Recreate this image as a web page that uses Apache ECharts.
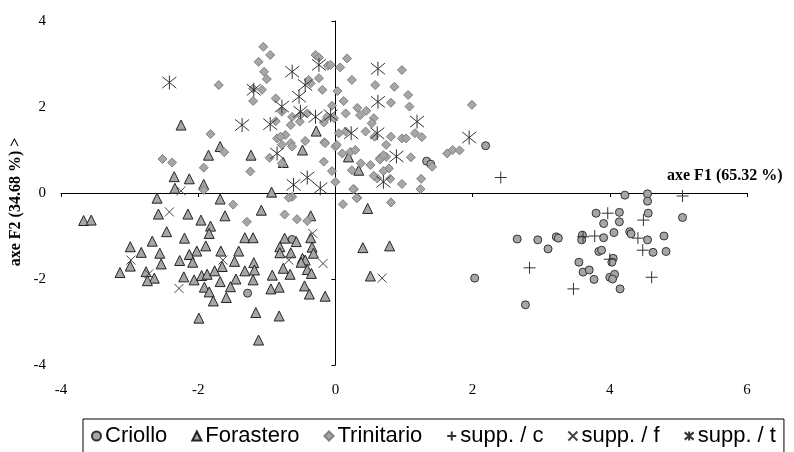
<!DOCTYPE html>
<html><head><meta charset="utf-8">
<script src="https://cdn.jsdelivr.net/npm/echarts@6/dist/echarts.min.js"></script>
<style>html,body{margin:0;padding:0;background:#fff}#c{width:794px;height:452px}</style>
</head><body><div id="c"></div>
<script>
var xTicks = [-4, -2, 0, 2, 4, 6];
var yTicks = [-4, -2, 0, 2, 4];
var xTitle = 'axe F1 (65.32 %)';
var yTitle = 'axe F2 (34.68 %) >';
var seriesNames = ['Criollo', 'Forastero', 'Trinitario', 'supp. / c', 'supp. / f', 'supp. / t'];

var criollo = [[4.22,-0.05],[4.55,-0.02],[4.55,-0.19],[4.56,-0.47],[5.06,-0.57],[3.80,-0.47],[4.14,-0.45],[3.91,-0.71],[4.14,-0.67],[4.06,-0.92],[4.29,-0.90],[4.31,-0.95],[4.79,-1.00],[4.55,-1.09],[3.91,-1.04],[3.60,-0.98],[3.59,-1.09],[3.22,-1.02],[3.25,-1.05],[2.95,-1.09],[2.65,-1.07],[3.10,-1.30],[3.84,-1.36],[3.88,-1.33],[4.63,-1.38],[4.82,-1.36],[3.55,-1.61],[4.05,-1.52],[4.03,-1.61],[3.61,-1.84],[3.70,-1.79],[3.77,-2.01],[4.00,-1.96],[4.07,-1.89],[4.04,-2.00],[4.15,-2.23],[2.03,-1.98],[2.77,-2.60],[2.19,1.10],[1.33,0.74],[1.39,0.67],[-1.28,-2.33],[-0.63,-1.08]];

var forastero = [[-3.67,-0.64],[-3.56,-0.63],[-2.60,-0.12],[-2.58,-0.49],[-2.15,-0.49],[-1.96,-0.63],[-1.68,-0.14],[-1.61,-0.53],[-1.82,-0.77],[-1.84,-0.94],[-2.46,-0.90],[-2.67,-1.12],[-2.20,-1.05],[-2.99,-1.25],[-2.83,-1.38],[-2.56,-1.40],[-2.02,-1.35],[-1.89,-1.23],[-1.67,-1.35],[-1.41,-1.35],[-2.13,-1.43],[-2.27,-1.57],[-2.08,-1.61],[-2.54,-1.65],[-2.99,-1.70],[-1.47,-1.59],[-1.65,-1.71],[-3.14,-1.85],[-2.76,-1.83],[-2.64,-1.98],[-2.74,-2.04],[-2.21,-1.95],[-2.06,-2.02],[-1.95,-1.92],[-1.87,-1.89],[-1.76,-1.81],[-1.68,-2.06],[-1.45,-2.00],[-1.91,-2.19],[-1.84,-2.30],[-1.53,-2.18],[-1.78,-2.51],[-1.59,-2.43],[-1.99,-2.91],
[-0.93,0.02],[-1.08,-0.40],[-0.36,-0.53],[-1.32,-1.04],[-1.20,-1.04],[-0.74,-1.05],[-0.57,-1.13],[-0.36,-1.04],[-0.81,-1.25],[-0.81,-1.39],[-0.65,-1.39],[-0.34,-1.26],[-0.32,-1.40],[-1.19,-1.62],[-1.18,-1.79],[-1.32,-1.81],[-0.76,-1.75],[-0.66,-1.89],[-0.48,-1.52],[-0.44,-1.56],[-0.50,-1.61],[-0.41,-1.78],[-0.35,-1.87],[-0.92,-1.91],[-1.20,-2.02],[-0.94,-2.23],[-0.82,-2.19],[-0.45,-2.16],[-0.38,-2.35],[-0.15,-2.40],[-1.16,-2.78],[-0.82,-2.86],[-1.12,-3.42],
[0.47,-0.36],[0.40,-1.27],[0.79,-1.23],[0.51,-1.93],
[-2.25,1.58],[-1.68,1.08],[-1.85,0.88],[-2.35,0.38],[-2.13,0.33],[-2.34,0.11],[-1.92,0.20],[-1.23,0.88],[-0.28,1.44],[-0.48,1.00],[-0.76,0.71],[0.19,0.84],[0.34,0.53]];

var trinitario = [[-1.70,2.51],[-1.82,1.37],[-1.62,0.95],[-2.52,0.79],[-2.38,0.71],[-1.92,0.59],[-1.92,0.07],
[-1.05,3.40],[-0.95,3.21],[-1.12,3.05],[-0.29,3.21],[-0.24,3.15],[0.17,3.13],[-1.04,2.82],[-0.11,2.96],[0.07,2.92],[-1.00,2.65],[-1.20,2.43],[-1.07,2.40],[-1.20,2.14],[-0.87,2.20],[-0.36,2.55],[-0.24,2.67],[-0.19,2.40],[0.24,2.63],[0.03,2.37],[0.12,2.14],[0.58,2.51],[-0.78,1.89],[-0.63,1.77],[-0.52,1.66],[-0.51,1.81],[-0.65,1.58],[-0.87,1.67],[-0.41,1.85],[-0.12,1.77],[-0.05,2.03],[-0.17,1.64],[0.15,1.85],[0.32,1.98],[0.36,1.81],[0.45,1.91],[0.56,1.74],[0.05,1.39],[0.15,1.43],[0.44,1.43],[0.57,1.31],[-0.85,1.27],[-0.73,1.35],[-0.78,1.12],[-0.65,1.16],[-0.44,1.21],[-0.96,0.82],[-0.78,0.69],[-0.16,1.18],[0.00,1.08],[0.10,0.92],[0.22,0.96],[0.29,1.00],[0.24,0.53],[0.37,0.69],[0.51,0.65],[0.61,0.34],[-1.24,0.50],[-0.17,0.73],[-0.05,0.51],[0.00,0.26],[0.27,0.09],[0.32,-0.11],[-0.63,-0.09],
[0.97,2.86],[0.86,2.47],[1.06,2.28],[1.08,2.01],[0.81,2.10],[1.99,2.05],[0.81,1.31],[0.97,1.27],[1.03,1.27],[1.16,1.39],[1.26,1.30],[0.74,1.12],[0.65,0.81],[0.74,0.84],[1.10,0.83],[0.78,0.57],[0.70,0.51],[0.56,0.40],[0.80,0.33],[0.97,0.21],[1.25,0.33],[1.24,0.09],[1.63,0.92],[1.71,1.00],[1.81,0.99],[1.41,0.61],[0.65,0.78],[0.70,0.88],[-0.07,2.98],[-0.02,1.74],[0.53,1.62],[-0.39,2.63],[-0.80,1.31],[-0.63,1.08],[0.02,1.12],[-0.15,1.16],
[-1.49,-0.27],[-0.68,-0.11],[-1.29,-0.67],[-0.74,-0.50],[-0.56,-0.61],[-0.41,-0.65],[0.11,-0.26],[0.31,-0.12],[0.81,-0.22],[0.26,0.09]];

var suppC = [[2.41,0.36],[5.06,-0.07],[3.97,-0.47],[4.49,-0.63],[3.61,-1.02],[3.78,-1.00],[4.41,-1.05],[4.48,-1.33],[4.00,-1.54],[2.83,-1.74],[4.61,-1.96],[3.47,-2.23]];

var suppF = [[-2.25,0.05],[-2.42,-0.44],[-2.98,-1.56],[-2.28,-2.22],[-1.64,-1.56],[-2.72,-1.88],[-0.33,-0.94],[-0.18,-1.64],[-0.68,-1.56],[0.68,-1.98]];

var suppT = [[-2.42,2.57],[-1.36,1.58],[-0.63,2.82],[-0.24,2.98],[0.62,2.89],[-1.19,2.40],[-0.44,2.51],[-0.53,2.24],[-0.78,2.01],[-0.51,1.89],[-0.29,1.77],[-0.95,1.60],[-0.07,1.81],[0.62,2.12],[0.23,1.39],[0.61,1.39],[1.19,1.66],[1.95,1.29],[0.89,0.85],[0.70,0.26],[-0.85,0.92],[-0.41,0.36],[-0.61,0.19],[-0.22,0.11]];

var chart = echarts.init(document.getElementById('c'), null, {renderer: 'canvas'});
var serif = 'Liberation Serif, Times New Roman, serif';
var sans = 'Liberation Sans, Arial, sans-serif';
var fillGray = '#a6a6a6';
var plusPath = 'path://M0,5 L10,5 M5,0 L5,10';
var crossPath = 'path://M0,0 L10,10 M10,0 L0,10';
var starPath = 'path://M0,1 L10,9 M10,1 L0,9 M5,0 L5,10';

function scatter(name, data, symbol, size, style) {
  return {type: 'scatter', name: name, data: data, symbol: symbol, symbolSize: size,
    xAxisIndex: 0, yAxisIndex: 0, itemStyle: style, emphasis: {disabled: true}, silent: true};
}
var lineStroke = {color: 'rgba(0,0,0,0)', borderColor: '#333', borderWidth: 1, opacity: 1};

chart.setOption({
  animation: false,
  grid: {left: 61, right: 47, top: 21, bottom: 87},
  xAxis: [
    {type: 'value', min: -4, max: 6, interval: 2, position: 'bottom',
     axisLine: {onZero: true, lineStyle: {color: '#000', width: 1}},
     axisTick: {show: true, inside: false, length: 4, lineStyle: {color: '#000'}},
     axisLabel: {show: false}, splitLine: {show: false}},
    {type: 'value', min: -4, max: 6, interval: 2, position: 'bottom',
     axisLine: {show: false, onZero: false}, axisTick: {show: false}, splitLine: {show: false},
     axisLabel: {show: true, margin: 18, color: '#000', fontFamily: serif, fontSize: 15,
       formatter: function (v) { return xTicks.indexOf(v) >= 0 ? String(v) : ''; }}}
  ],
  yAxis: [
    {type: 'value', min: -4, max: 4, interval: 2, position: 'left',
     axisLine: {onZero: true, lineStyle: {color: '#000', width: 1}},
     axisTick: {show: true, inside: false, length: 4, lineStyle: {color: '#000'}},
     axisLabel: {show: false}, splitLine: {show: false}},
    {type: 'value', min: -4, max: 4, interval: 2, position: 'left',
     axisLine: {show: false, onZero: false}, axisTick: {show: false}, splitLine: {show: false},
     axisLabel: {show: true, margin: 15, color: '#000', fontFamily: serif, fontSize: 15,
       formatter: function (v) { return yTicks.indexOf(v) >= 0 ? String(v) : ''; }}}
  ],
  legend: {
    data: seriesNames, orient: 'horizontal', left: 83, top: 419,
    borderColor: '#000', borderWidth: 1, padding: [6, 8, 10, 8], itemGap: 24,
    itemWidth: 9, itemHeight: 9,
    textStyle: {fontFamily: sans, fontSize: 22, color: '#000', padding: [0, 0, 0, -1]}
  },
  graphic: [
    {type: 'text', left: 667, top: 168, style: {text: xTitle, font: 'bold 16px ' + serif, fill: '#000'}},
    {type: 'text', x: 16, y: 202, rotation: Math.PI / 2,
     style: {text: yTitle, font: 'bold 16px ' + serif, fill: '#000', textAlign: 'center', textVerticalAlign: 'middle'}}
  ],
  series: [
    scatter(seriesNames[0], criollo, 'circle', 8, {color: fillGray, borderColor: '#333', borderWidth: 1, opacity: 1}),
    scatter(seriesNames[1], forastero, 'triangle', 10, {color: fillGray, borderColor: '#222', borderWidth: 1, opacity: 1}),
    scatter(seriesNames[2], trinitario, 'diamond', 9, {color: fillGray, borderColor: '#808080', borderWidth: 1, opacity: 1}),
    scatter(seriesNames[3], suppC, plusPath, 12, lineStroke),
    scatter(seriesNames[4], suppF, crossPath, 9, {color: 'rgba(0,0,0,0)', borderColor: '#444', borderWidth: 1, opacity: 1}),
    scatter(seriesNames[5], suppT, starPath, 14, lineStroke)
  ]
});
</script></body></html>
